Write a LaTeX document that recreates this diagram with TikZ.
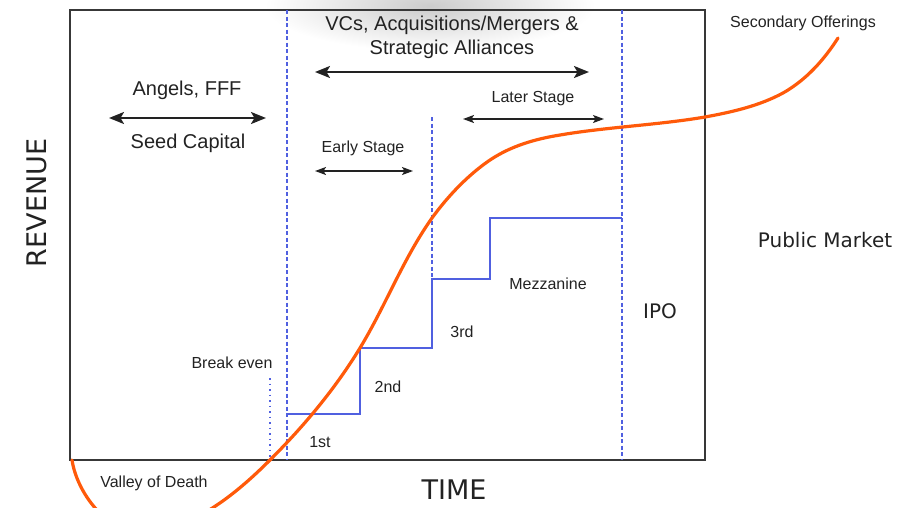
\documentclass[tikz,border=0pt]{standalone}
\usepackage{fontspec}
\setmainfont{Liberation Sans}
\newfontfamily\djv{DejaVu Sans}
\usetikzlibrary{arrows.meta}
\definecolor{stageblue}{HTML}{5060E0}
\definecolor{curveorange}{HTML}{FF5A0A}
\definecolor{ink}{HTML}{222222}
\tikzset{
  frame/.style={draw=ink!90, line width=1.6pt},
  divider/.style={draw=stageblue, line width=1.2pt, dash pattern=on 4pt off 2.5pt},
  stepline/.style={draw=stageblue, line width=1.5pt},
  bigarrow/.style={draw=ink, line width=2.2pt, {Stealth[length=15pt,width=12pt,inset=3.5pt]}-{Stealth[length=15pt,width=12pt,inset=3.5pt]}},
  smallarrow/.style={draw=ink, line width=1.4pt, {Stealth[length=11pt,width=8pt,inset=2.5pt]}-{Stealth[length=11pt,width=8pt,inset=2.5pt]}},
  bigtxt/.style={text=ink, font=\fontsize{20}{24}\selectfont, inner sep=0pt},
  smalltxt/.style={text=ink, font=\fontsize{16}{19}\selectfont, inner sep=0pt},
  djvtxt/.style={text=ink, font=\djv\fontsize{20}{24}\selectfont, inner sep=0pt},
  axistxt/.style={text=ink, font=\djv\fontsize{27}{30}\selectfont, inner sep=0pt},
}
\begin{document}
\begin{tikzpicture}[x=1pt,y=-1pt]
\useasboundingbox (0,0) rectangle (911,507);
\clip (0,0) rectangle (911,507);
% faint shadow artefact
\shade[inner color=gray!40, outer color=white] (430,6) ellipse [x radius=165, y radius=45];
% frame
\coordinate (tl) at (70,10);
\coordinate (br) at (705,460);
\draw[frame] (tl) rectangle (br);
% dividers
\coordinate (d1t) at (287,10);  \coordinate (d1b) at (287,460);
\coordinate (d2t) at (622,10);  \coordinate (d2b) at (622,460);
\coordinate (d3t) at (432,117); \coordinate (d3b) at (432,279);
\draw[divider] (d1t) -- (d1b);
\draw[divider] (d2t) -- (d2b);
\draw[divider] (d3t) -- (d3b);
\coordinate (be1) at (270,378); \coordinate (be2) at (270,460);
\draw[stageblue, line width=1.3pt, dash pattern=on 1.5pt off 4pt] (be1) -- (be2);
% steps
\coordinate (s0) at (287,414);
\coordinate (s1) at (360,414);
\coordinate (s2) at (360,348);
\coordinate (s3) at (432,348);
\coordinate (s4) at (432,279);
\coordinate (s5) at (490,279);
\coordinate (s6) at (490,218);
\coordinate (s7) at (622,218);
\draw[stepline] (s0) -- (s1) -- (s2) -- (s3) -- (s4) -- (s5) -- (s6) -- (s7);
% arrows
\coordinate (va) at (315,72);  \coordinate (vb) at (589,72);
\coordinate (aa) at (109,118); \coordinate (ab) at (266,118);
\coordinate (ea) at (315,171); \coordinate (eb) at (413,171);
\coordinate (la) at (463,119); \coordinate (lb) at (604,119);
\draw[bigarrow] (va) -- (vb);
\draw[bigarrow] (aa) -- (ab);
\draw[smallarrow] (ea) -- (eb);
\draw[smallarrow] (la) -- (lb);
% curve
\coordinate (cA) at (72,460);
\coordinate (cB) at (140,532);
\coordinate (cC) at (270,460);
\coordinate (cD) at (360,348);
\coordinate (cE) at (432,218);
\coordinate (cF) at (490,160);
\coordinate (cG) at (560,135);
\coordinate (cH) at (705,117);
\coordinate (cI) at (783,93);
\coordinate (cJ) at (838,38);
\draw[curveorange, line width=3.2pt, line cap=round]
  (cA) .. controls (77,493) and (107,532) .. (cB)
       .. controls (190,532) and (235,495) .. (cC)
       .. controls (304,426) and (335,389) .. (cD)
       .. controls (386,305) and (403,259) .. (cE)
       .. controls (448,196) and (468,175) .. (cF)
       .. controls (511,146) and (535,139) .. (cG)
       .. controls (607,127) and (658,125) .. (cH)
       .. controls (732,112) and (759,106) .. (cI)
       .. controls (806,80) and (824,60) .. (cJ);
% texts
\node[bigtxt] (vc1) at (452,25) {VCs, Acquisitions/Mergers \&};
\node[bigtxt] (vc2) at (452,49) {Strategic Alliances};
\node[bigtxt] (ang) at (187,90) {Angels, FFF};
\node[bigtxt] (seed) at (188,143) {Seed Capital};
\node[smalltxt] (early) at (363,148) {Early Stage};
\node[smalltxt] (later) at (533,99) {Later Stage};
\node[smalltxt] (sec) at (803,23) {Secondary Offerings};
\node[djvtxt] (pub) at (825,240) {Public Market};
\node[djvtxt] (ipo) at (660,311) {IPO};
\node[smalltxt] (mez) at (548,284) {Mezzanine};
\node[smalltxt] (third) at (462,332) {3rd};
\node[smalltxt] (second) at (388,387) {2nd};
\node[smalltxt] (first) at (320,442) {1st};
\node[smalltxt] (brk) at (232,363) {Break even};
\node[smalltxt] (valley) at (154,483) {Valley of Death};
\node[axistxt] (time) at (454,490) {TIME};
\node[axistxt, rotate=90] (rev) at (37,203) {REVENUE};
\end{tikzpicture}
\end{document}
